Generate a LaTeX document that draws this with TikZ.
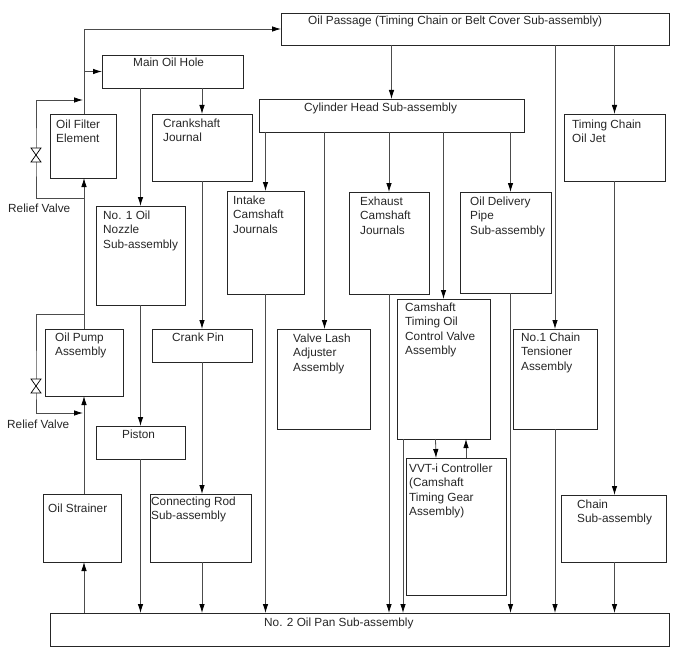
\documentclass[tikz,border=0pt]{standalone}
\usepackage{fontspec}
\setmainfont{Liberation Sans}
\usetikzlibrary{arrows.meta}
\tikzset{
  unit/.style={draw=black!85,line width=0.9pt,inner sep=0pt,outer sep=0pt},
  txt/.style={anchor=north west,align=left,inner sep=0pt,text=black!85,font=\fontsize{11.8}{14.2}\selectfont},
  oil/.style={draw=black!70,line width=0.8pt},
  valve/.style={draw=black,line width=0.7pt,fill=white}
}
\begin{document}
\begin{tikzpicture}[x=1pt,y=-1pt,>={Latex[length=9pt,width=5.5pt,black]}]
\useasboundingbox (0,0) rectangle (688,658);

% UNITS
\node[unit,minimum width=388,minimum height=32] (passage) at (475,29) {};
\node[unit,minimum width=141,minimum height=33] (hole) at (172.5,71.5) {};
\node[unit,minimum width=66,minimum height=64] (filter) at (83,146) {};
\node[unit,minimum width=100,minimum height=67] (journal) at (202,147.5) {};
\node[unit,minimum width=89,minimum height=99] (nozzle) at (140.5,255.5) {};
\node[unit,minimum width=265,minimum height=33] (head) at (391.5,115.5) {};
\node[unit,minimum width=101,minimum height=67] (jet) at (614.5,147.5) {};
\node[unit,minimum width=77,minimum height=103] (intake) at (265.5,242.5) {};
\node[unit,minimum width=80,minimum height=102] (exhaust) at (389,243) {};
\node[unit,minimum width=91,minimum height=101] (delivery) at (505.5,242.5) {};
\node[unit,minimum width=93,minimum height=140] (ocv) at (443.5,369) {};
\node[unit,minimum width=93,minimum height=100] (lash) at (323.5,379) {};
\node[unit,minimum width=84,minimum height=100] (tensioner) at (555,379) {};
\node[unit,minimum width=100,minimum height=33] (pin) at (202,345.5) {};
\node[unit,minimum width=78,minimum height=67] (pump) at (84,362.5) {};
\node[unit,minimum width=89,minimum height=33] (piston) at (140.5,442.5) {};
\node[unit,minimum width=78,minimum height=68] (strainer) at (82,528) {};
\node[unit,minimum width=101,minimum height=68] (rod) at (200.5,528) {};
\node[unit,minimum width=100,minimum height=137] (vvt) at (456,526.5) {};
\node[unit,minimum width=105,minimum height=67] (chain) at (613.5,528.5) {};
\node[unit,minimum width=619,minimum height=33] (pan) at (359.5,629.5) {};

% TEXTS
\node[txt] (passage-t) at (308,16) {Oil Passage (Timing Chain or Belt Cover Sub-assembly)};
\node[txt] (hole-t) at (133,58) {Main Oil Hole};
\node[txt] (filter-t) at (56,120) {Oil Filter\\Element};
\node[txt] (journal-t) at (163,119) {Crankshaft\\Journal};
\node[txt] (nozzle-t) at (103,211) {No. 1 Oil\\Nozzle\\Sub-assembly};
\node[txt] (head-t) at (304,103) {Cylinder Head Sub-assembly};
\node[txt] (jet-t) at (572,120) {Timing Chain\\Oil Jet};
\node[txt] (intake-t) at (233,196) {Intake\\Camshaft\\Journals};
\node[txt] (exhaust-t) at (360,197) {Exhaust\\Camshaft\\Journals};
\node[txt] (delivery-t) at (470,197) {Oil Delivery\\Pipe\\Sub-assembly};
\node[txt] (ocv-t) at (405,303) {Camshaft\\Timing Oil\\Control Valve\\Assembly};
\node[txt] (lash-t) at (293,334) {Valve Lash\\Adjuster\\Assembly};
\node[txt] (tensioner-t) at (521,333) {No.1 Chain\\Tensioner\\Assembly};
\node[txt] (pin-t) at (172,333) {Crank Pin};
\node[txt] (pump-t) at (55,333) {Oil Pump\\Assembly};
\node[txt] (piston-t) at (122,430) {Piston};
\node[txt] (strainer-t) at (48,504) {Oil Strainer};
\node[txt] (rod-t) at (151,497) {Connecting Rod\\Sub-assembly};
\node[txt] (vvt-t) at (409,464) {VVT-i Controller\\(Camshaft\\Timing Gear\\Assembly)};
\node[txt] (chain-t) at (577,500) {Chain\\Sub-assembly};
\node[txt] (pan-t) at (264,618) {No. 2 Oil Pan Sub-assembly};
\node[txt] (relief-a) at (8,204) {Relief Valve};
\node[txt] (relief-b) at (7,420) {Relief Valve};

% ARROWS
\coordinate (riser) at (84,0);
\draw[oil,->] (pan.north -| riser) -- (strainer.south -| riser);
\draw[oil,->] (strainer.north -| riser) -- (pump.south -| riser);
\draw[oil,->] (pump.north -| riser) -- (filter.south -| riser);
\draw[oil,->] (filter.north -| riser) |- (passage.west);
\draw[oil,->] (hole.west -| riser) -- (hole.west);

\draw[oil,->] (hole.south -| nozzle) -- (nozzle.north);
\draw[oil,->] (nozzle.south) -- (piston.north);
\draw[oil,->] (piston.south) -- (piston.south |- pan.north);
\draw[oil,->] (hole.south -| journal) -- (journal.north);
\draw[oil,->] (journal.south) -- (pin.north);
\draw[oil,->] (pin.south) -- (pin.south |- rod.north);
\draw[oil,->] (pin.south |- rod.south) -- (pin.south |- pan.north);

\draw[oil,->] (passage.south -| head) -- (head.north);
\draw[oil,->] (head.south -| intake) -- (intake.north);
\draw[oil,->] (intake.south) -- (intake.south |- pan.north);
\draw[oil,->] ([xshift=-67]head.south) -- ([xshift=-67]head.south |- lash.north);
\draw[oil,->] (head.south -| exhaust) -- (exhaust.north);
\draw[oil,->] (exhaust.south) -- (exhaust.south |- pan.north);
\draw[oil,->] (head.south -| ocv) -- (ocv.north);
\draw[oil,->] ([xshift=119]head.south) -- ([xshift=119]head.south |- delivery.north);
\draw[oil,->] ([xshift=119]head.south |- delivery.south) -- ([xshift=119]head.south |- pan.north);
\draw[oil,->] ([xshift=6]ocv.south west) -- ([xshift=6]ocv.south west |- pan.north);
\draw[oil,->] ([xshift=-8]ocv.south) -- ([xshift=30]vvt.north west);
\draw[oil,->] ([xshift=60]vvt.north west) -- ([xshift=60]vvt.north west |- ocv.south);

\draw[oil,->] (passage.south -| tensioner) -- (tensioner.north);
\draw[oil,->] (tensioner.south) -- (tensioner.south |- pan.north);
\draw[oil,->] (passage.south -| jet) -- (jet.north);
\draw[oil,->] (jet.south) -- (jet.south |- chain.north);
\draw[oil,->] (jet.south |- chain.south) -- (jet.south |- pan.north);

% RELIEF VALVES
\coordinate (valve-a) at (36,155);
\coordinate (valve-b) at (36,386);
\coordinate (bypass-a) at (84,198);
\coordinate (return-a) at (83,100);
\coordinate (bypass-b) at (84,314);
\coordinate (return-b) at (83,413);
\draw[oil,->] (bypass-a) -| (valve-a) |- (return-a);
\draw[oil,->] (bypass-b) -| (valve-b) |- (return-b);
\draw[valve] (valve-a) ++(-5,-7) -- ++(10,0) -- ++(-10,14) -- ++(10,0) -- cycle;
\draw[valve] (valve-b) ++(-5,-7) -- ++(10,0) -- ++(-10,14) -- ++(10,0) -- cycle;

\end{tikzpicture}
\end{document}
